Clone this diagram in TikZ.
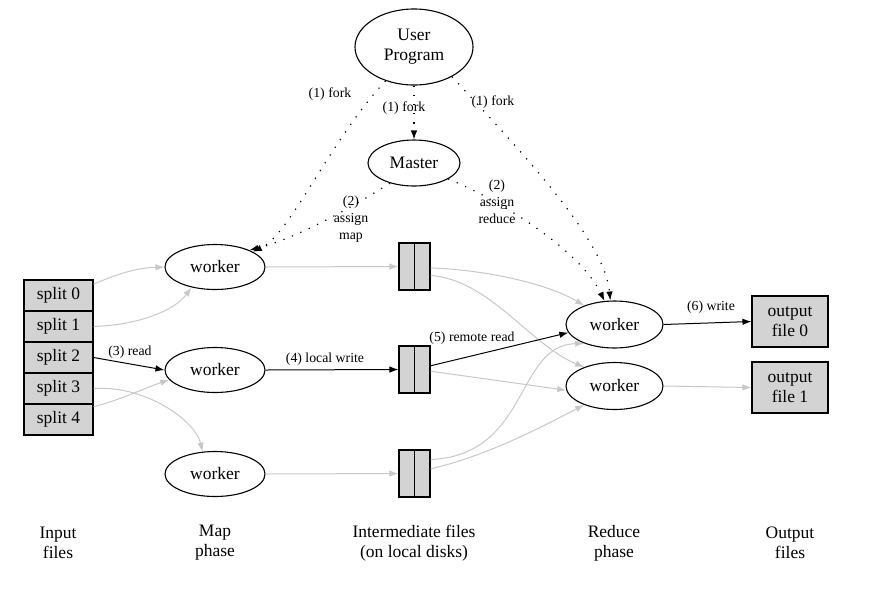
\documentclass[tikz,border=0pt]{standalone}
\usepackage{fontspec}
\setmainfont{Liberation Serif}
\usetikzlibrary{shapes.geometric,arrows.meta}
\definecolor{boxgray}{HTML}{D3D3D3}
\definecolor{edgegray}{HTML}{C8C8C8}
\begin{document}
\begin{tikzpicture}[x=1pt,y=-1pt,
 mainfont/.style={font=\fontsize{17.5}{20}\selectfont},
 lab/.style={font=\fontsize{13.8}{17}\selectfont, inner sep=0pt, align=center},
 proc/.style={ellipse, draw, line width=1.1pt, inner sep=0pt, mainfont, minimum width=100pt, minimum height=45pt},
 filebox/.style={rectangle, draw, line width=1.1pt, fill=boxgray, inner sep=0pt, mainfont},
 blk/.style={draw=black, line width=1pt, -{Latex[length=9pt,width=6.5pt]}},
 gry/.style={draw=edgegray, line width=1pt, -{Latex[length=9pt,width=6.5pt]}},
 dotarrow/.style={line width=1.2pt, dash pattern=on 1.2pt off 8pt, -{Latex[length=9pt,width=6.5pt]}},
 phase/.style={mainfont, align=center, inner sep=0pt},
]
\useasboundingbox (0,0) rectangle (869,606);

% processes
\node[proc, minimum width=118pt, minimum height=76pt, align=center] (user) at (414,47) {User\\Program};
\node[proc, minimum width=92pt, minimum height=46pt] (master) at (414,163) {Master};
\node[proc] (w1) at (215,267) {worker};
\node[proc] (w2) at (215,370) {worker};
\node[proc] (w3) at (215,474) {worker};
\node[proc, minimum width=97pt, minimum height=47pt] (r0) at (614.5,324.5) {worker};
\node[proc, minimum width=97pt, minimum height=47pt] (r1) at (614.5,386) {worker};

% input splits
\node[filebox, minimum width=69pt, minimum height=31pt] (s0) at (58.5,295.5) {split 0};
\node[filebox, minimum width=69pt, minimum height=31pt] (s1) at (58.5,326.5) {split 1};
\node[filebox, minimum width=69pt, minimum height=31pt] (s2) at (58.5,357.5) {split 2};
\node[filebox, minimum width=69pt, minimum height=31pt] (s3) at (58.5,388.5) {split 3};
\node[filebox, minimum width=69pt, minimum height=31pt] (s4) at (58.5,419.5) {split 4};

% intermediate files
\node[filebox, minimum width=31pt, minimum height=47pt] (f1) at (414.5,266.5) {};
\node[filebox, minimum width=31pt, minimum height=47pt] (f2) at (414.5,369.5) {};
\node[filebox, minimum width=31pt, minimum height=47pt] (f3) at (414.5,473.5) {};
\draw[line width=1.1pt] (f1.north) -- (f1.south);
\draw[line width=1.1pt] (f2.north) -- (f2.south);
\draw[line width=1.1pt] (f3.north) -- (f3.south);

% output files
\node[filebox, minimum width=76pt, minimum height=51pt, align=center] (o0) at (790,321.5) {output\\file 0};
\node[filebox, minimum width=76pt, minimum height=51pt, align=center] (o1) at (790,387.5) {output\\file 1};

% phase labels
\node[phase] (pin) at (58,543) {Input\\files};
\node[phase] (pmap) at (215,543) {Map\\phase};
\node[phase] (pint) at (414,543) {Intermediate files\\(on local disks)};
\node[phase] (pred) at (614,543) {Reduce\\phase};
\node[phase] (pout) at (790,543) {Output\\files};

% control (dotted) edges
\draw[dotarrow] (user.270) -- (master.90);
\draw[dotarrow] (user.230) .. controls (330,140) and (290,235) .. (w1.22);
\draw[dotarrow] (master.220) .. controls (340,215) and (290,240) .. (w1.26);
\draw[dotarrow] (user.322) .. controls (520,150) and (605,240) .. (r0.100);
\draw[dotarrow] (master.335) .. controls (500,200) and (580,250) .. (r0.113);
\node[lab] (lf1) at (330,94) {(1) fork};
\node[lab] (lf2) at (404,108) {(1) fork};
\node[lab] (lf3) at (493,102) {(1) fork};
\node[lab] (lam) at (351,219) {(2)\\assign\\map};
\node[lab] (lar) at (497,202) {(2)\\assign\\reduce};

% input -> map
\draw[gry] (s0.18) .. controls (118,274) and (135,268) .. (w1.west);
\draw[gry] (s1.east) .. controls (140,325) and (175,310) .. (w1.221);
\draw[blk] (s2.east) -- (w2.west);
\draw[gry] (s3.east) .. controls (145,385) and (195,420) .. (w3.119);
\draw[gry] (s4.20) .. controls (120,400) and (145,388) .. (w2.192);
\node[lab] (lread) at (130,352) {(3) read};

% map -> intermediate
\draw[gry] (w1.east) -- (f1.west);
\draw[blk] (w2.east) -- (f2.west);
\draw[gry] (w3.east) -- (f3.west);
\node[lab] (lwrite) at (325,359) {(4) local write};

% intermediate -> reduce
\draw[gry] (f1.355) .. controls (490,270) and (550,285) .. (r0.148);
\draw[gry] (f1.331) .. controls (490,280) and (530,345) .. (r1.148);
\draw[blk] (f2.13) -- (r0.190);
\draw[gry] (f2.354) -- (r1.185);
\draw[gry] (f3.41) .. controls (530,455) and (515,345) .. (r0.212);
\draw[gry] (f3.16) .. controls (490,455) and (545,425) .. (r1.212);
\node[lab] (lremote) at (472,338) {(5) remote read};

% reduce -> output
\draw[blk] (r0.east) -- (o0.west);
\draw[gry] (r1.east) -- (o1.west);
\node[lab] (lout) at (711,307) {(6) write};
\end{tikzpicture}
\end{document}
